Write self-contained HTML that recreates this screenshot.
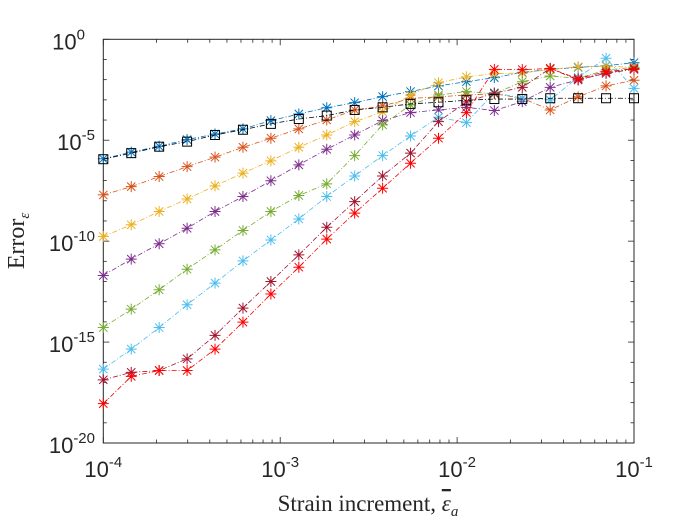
<!DOCTYPE html>
<html><head><meta charset="utf-8"><style>
body{margin:0;background:#fff;}
svg{display:block;font-family:"Liberation Sans",sans-serif;}
</style></head><body>
<svg id="chart" width="700" height="525">
<rect x="0" y="0" width="700" height="525" fill="#fff"/>
<g id="plot"></g>
</svg>
<script>
const xExp = [-4,-1];
const nPts = 20;
const yTickExps = [0,-5,-10,-15,-20];
const seriesNames = ['s1','s2','s3','s4','s5','s6','s7','s8','ref'];
const colors = ['#0072BD','#D95319','#EDB120','#7E2F8E','#77AC30','#4DBEEE','#A2142F','#FF0000','#000000'];
const sBlue = [-5.92,-5.59,-5.30,-4.97,-4.69,-4.44,-4.03,-3.70,-3.39,-3.14,-2.84,-2.59,-2.31,-2.10,-1.90,-1.64,-1.49,-1.39,-1.31,-1.16];
const sOrange = [-7.71,-7.30,-6.80,-6.31,-5.84,-5.35,-4.90,-4.44,-4.00,-3.50,-3.30,-2.93,-2.85,-2.76,-2.70,-2.92,-3.50,-2.85,-2.31,-2.03];
const sYellow = [-9.77,-9.19,-8.53,-7.91,-7.26,-6.63,-6.02,-5.35,-4.74,-4.08,-3.60,-2.76,-2.15,-1.86,-1.70,-1.67,-1.49,-1.36,-1.33,-1.39];
const sPurple = [-11.70,-10.89,-10.13,-9.36,-8.53,-7.79,-7.01,-6.22,-5.45,-4.74,-4.03,-3.63,-3.50,-3.37,-3.53,-3.09,-2.38,-2.01,-1.68,-1.44];
const sGreen = [-14.28,-13.37,-12.41,-11.39,-10.43,-9.47,-8.53,-7.74,-7.16,-5.76,-4.24,-3.25,-2.76,-2.59,-2.70,-2.10,-1.82,-1.93,-1.52,-1.39];
const sLBlue = [-16.34,-15.35,-14.28,-13.15,-12.08,-10.98,-9.94,-8.90,-7.79,-6.77,-5.76,-4.79,-3.86,-4.13,-2.64,-2.92,-3.00,-1.88,-0.94,-2.43];
const sDRed = [-16.87,-16.50,-16.41,-15.83,-14.67,-13.32,-12.00,-10.68,-9.31,-8.04,-6.77,-5.64,-4.08,-3.10,-2.67,-2.38,-1.44,-2.01,-1.68,-1.49];
const sRed = [-18.05,-16.70,-16.41,-16.41,-15.35,-14.01,-12.62,-11.29,-9.90,-8.61,-7.38,-6.14,-4.90,-3.63,-1.49,-1.50,-1.45,-1.95,-1.60,-1.45];
const sRef = [-5.94,-5.64,-5.32,-5.07,-4.74,-4.48,-4.19,-3.95,-3.78,-3.50,-3.37,-3.20,-3.12,-3.02,-2.96,-2.96,-2.92,-2.92,-2.92,-2.92];
const allSeries = [sBlue,sOrange,sYellow,sPurple,sGreen,sLBlue,sDRed,sRed,sRef];

const L=103.3,R=634,T=39.3,B=443;
const NS='http://www.w3.org/2000/svg';
const g=document.getElementById('plot');
function X(e){return L+(e-xExp[0])/(xExp[1]-xExp[0])*(R-L);}
function Y(e){return T+(0-e)/20*(B-T);}
function el(t,a,p){const n=document.createElementNS(NS,t);for(const k in a)n.setAttribute(k,a[k]);(p||g).appendChild(n);return n;}

for(let d=-4;d<=-1;d++){
  for(let m=1;m<10;m++){
    const e=d+Math.log10(m); if(e>-1+1e-9)break;
    const x=X(e), len=m===1?6:3.5;
    el('line',{x1:x,y1:B,x2:x,y2:B-len,stroke:'#262626','stroke-width':0.8});
    el('line',{x1:x,y1:T,x2:x,y2:T+len,stroke:'#262626','stroke-width':0.8});
  }
  const t=el('text',{x:X(d),y:477,'text-anchor':'middle','font-size':22,fill:'#262626'});
  
  
  t.innerHTML='10<tspan dy="-10" font-size="15">'+d+'</tspan>';
}
for(let d=0;d>=-20;d--){
  const y=Y(d), len=(d%5===0)?6:3.5;
  el('line',{x1:L,y1:y,x2:L+len,y2:y,stroke:'#262626','stroke-width':0.8});
  el('line',{x1:R,y1:y,x2:R-len,y2:y,stroke:'#262626','stroke-width':0.8});
}
yTickExps.forEach(d=>{
  const t=el('text',{x:d===0?85:95,y:Y(d)+10,'text-anchor':'end','font-size':22,fill:'#262626'});
  
  
  t.innerHTML='10<tspan dy="-10" font-size="15">'+d+'</tspan>';
});
const fr=el('rect',{x:L,y:T,width:R-L,height:B-T,fill:'none',stroke:'#262626','stroke-width':1});



allSeries.forEach((s,i)=>{
  const sg=el('g',{});
  
  
  const pts=s.map((v,j)=>[X(xExp[0]+j*(xExp[1]-xExp[0])/(nPts-1)),Y(v)]);
  el('polyline',{points:pts.map(p=>p.join(',')).join(' '),fill:'none',stroke:colors[i],'stroke-width':0.8,'stroke-dasharray':'5,2,1,2'},sg);
  pts.forEach(p=>{
    if(i===8){
      const r=el('rect',{x:p[0]-4.5,y:p[1]-4.5,width:9,height:9,fill:'none',stroke:'#000','stroke-width':1},sg);
      
      
    } else {
      const a=5.5;
      const d=`M${p[0]-a},${p[1]}H${p[0]+a}M${p[0]},${p[1]-a}V${p[1]+a}M${p[0]-a*0.75},${p[1]-a*0.75}L${p[0]+a*0.75},${p[1]+a*0.75}M${p[0]-a*0.75},${p[1]+a*0.75}L${p[0]+a*0.75},${p[1]-a*0.75}`;
      const m=el('path',{d:d,stroke:colors[i],'stroke-width':1,fill:'none'},sg);
      
      
    }
  });
});
</script>
<svg style="position:absolute;left:0;top:0" width="700" height="525">
<text x="368" y="511" text-anchor="middle" font-family="Liberation Serif,serif" font-size="23" fill="#262626">Strain increment, <tspan font-style="italic" text-decoration="overline">ε</tspan><tspan font-style="italic" font-size="15" dy="5">a</tspan></text>
<text transform="translate(24,241) rotate(-90)" text-anchor="middle" font-family="Liberation Serif,serif" font-size="24" fill="#262626">Error<tspan font-style="italic" font-size="15" dy="5">ε</tspan></text>
</svg>
</body></html>
